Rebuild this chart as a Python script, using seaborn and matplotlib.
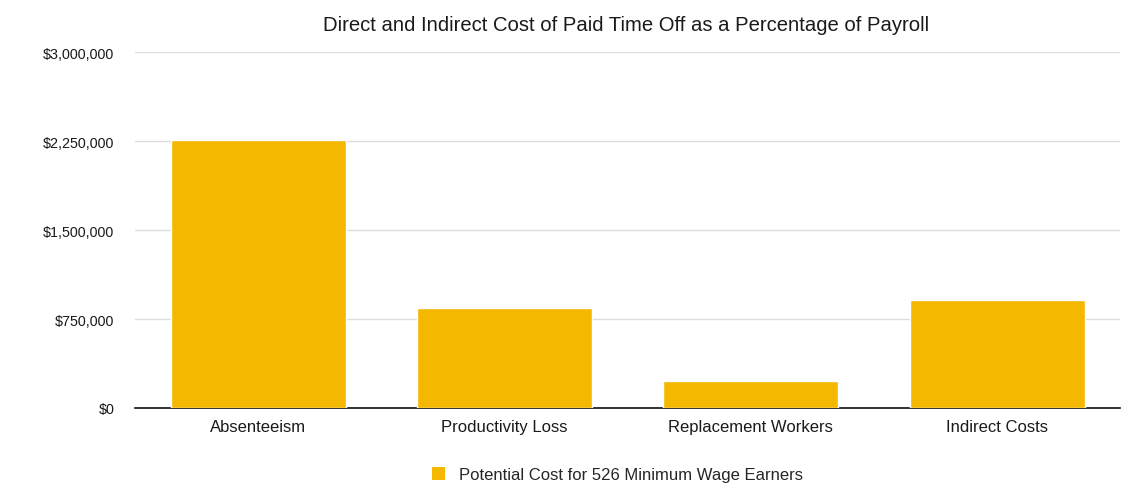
import matplotlib
matplotlib.use("Agg")
import matplotlib.pyplot as plt
import seaborn as sns
import pandas as pd
from matplotlib.ticker import FuncFormatter, MultipleLocator
from matplotlib.patches import Patch

categories = ["Absenteeism", "Productivity Loss", "Replacement Workers", "Indirect Costs"]
costs = [2260000, 840000, 230000, 910000]
series_name = "Potential Cost for 526 Minimum Wage Earners"
title = "Direct and Indirect Cost of Paid Time Off as a Percentage of Payroll"

bar_color = "#F5B800"

sns.set_theme(style="white")
plt.rcParams["font.family"] = ["Liberation Sans", "DejaVu Sans"]

df = pd.DataFrame({"category": categories, "cost": costs})

fig = plt.figure(figsize=(11.35, 4.89), dpi=100)
ax = fig.add_axes([0.119, 0.1636, 0.868, 0.728])

sns.barplot(data=df, x="category", y="cost", color=bar_color, saturation=1,
            width=0.71, ax=ax, zorder=3)

ax.set_ylim(0, 3000000)
ax.yaxis.set_major_locator(MultipleLocator(750000))
ax.yaxis.set_major_formatter(FuncFormatter(lambda v, p: f"${v:,.0f}"))
ax.grid(axis="y", color="#dddddd", linewidth=1, zorder=0)
ax.set_axisbelow(True)

for side in ["top", "right", "left"]:
    ax.spines[side].set_visible(False)
ax.spines["bottom"].set_color("#111111")
ax.spines["bottom"].set_linewidth(1.2)

ax.set_xlabel("")
ax.set_ylabel("")
ax.tick_params(axis="y", length=0, pad=15, labelsize=10.3, labelcolor="#1a1a1a")
ax.tick_params(axis="x", length=0, pad=8, labelsize=12, labelcolor="#1a1a1a")

fig.suptitle(title, x=0.552, y=0.968, fontsize=14.6, color="#1a1a1a")

handle = Patch(facecolor=bar_color, edgecolor="none")
fig.legend([handle], [series_name], loc="center", bbox_to_anchor=(0.544, 0.027),
           frameon=False, fontsize=12, handlelength=0.8, handleheight=0.8,
           handletextpad=0.8)

fig.savefig("out.png", dpi=100)
